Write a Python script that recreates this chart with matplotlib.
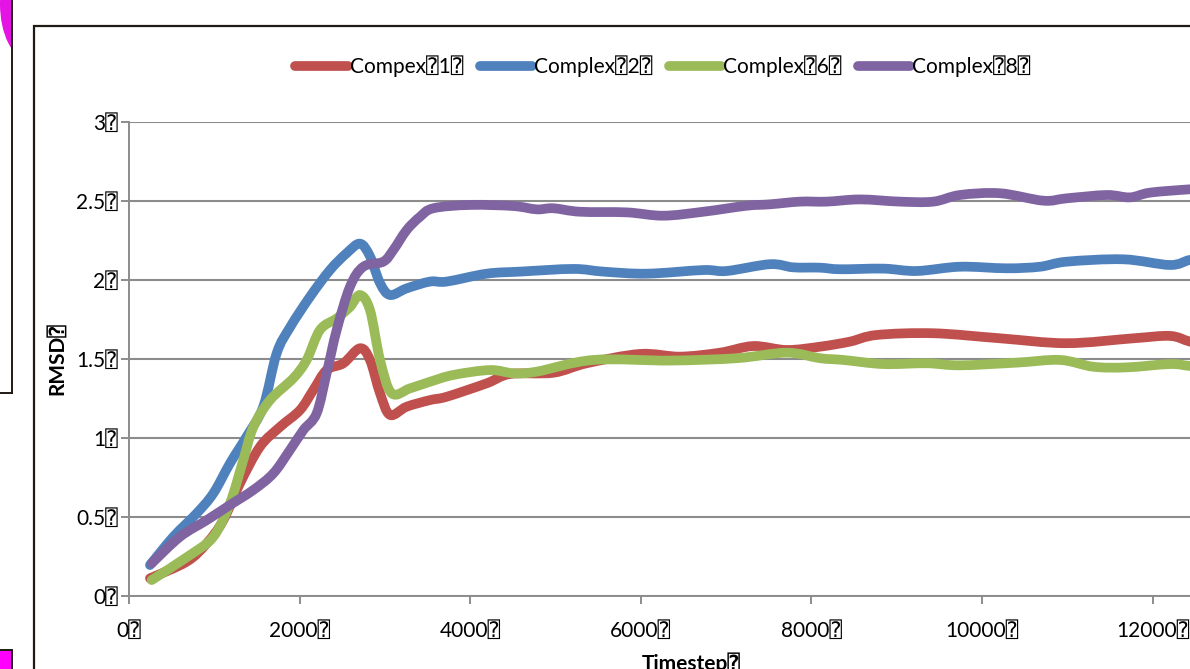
import matplotlib
matplotlib.use("Agg")
import matplotlib.pyplot as plt
from matplotlib.lines import Line2D
from matplotlib.patches import Rectangle, Ellipse, PathPatch
from matplotlib.path import Path
from matplotlib.transforms import Bbox

plt.rcParams['font.family'] = ['Lato', 'DejaVu Sans', 'DejaVu Sans Mono']

# ---- data ----
x_c1 = [246, 676, 911, 1106, 1301, 1536, 1770, 2005, 2161, 2317, 2513, 2708, 2825, 2943, 3060,
        3255, 3529, 3724, 4193, 4467, 4974, 5365, 5991, 6460, 6928, 7319, 7710, 8101, 8452,
        8765, 9429, 10211, 10993, 11774, 12204, 12438, 12700]
y_c1 = [0.112, 0.217, 0.333, 0.48, 0.713, 0.945, 1.07, 1.177, 1.304, 1.43, 1.473, 1.568, 1.494,
        1.283, 1.146, 1.198, 1.24, 1.261, 1.346, 1.405, 1.413, 1.473, 1.532, 1.515, 1.54, 1.582,
        1.557, 1.578, 1.61, 1.652, 1.663, 1.631, 1.6, 1.631, 1.646, 1.61, 1.58]

x_c2 = [246, 520, 793, 989, 1184, 1380, 1575, 1731, 1887, 2122, 2356, 2552, 2708, 2825, 2943,
        3060, 3255, 3529, 3724, 4193, 4584, 5209, 5561, 6069, 6733, 7006, 7515, 7788, 8101,
        8335, 8843, 9234, 9742, 10289, 10680, 10993, 11657, 12204, 12438, 12700]
y_c2 = [0.196, 0.375, 0.523, 0.65, 0.84, 1.01, 1.20, 1.536, 1.70, 1.894, 2.063, 2.17, 2.23, 2.15,
        1.98, 1.905, 1.947, 1.99, 1.99, 2.04, 2.053, 2.07, 2.053, 2.04, 2.063, 2.057, 2.10, 2.08,
        2.078, 2.068, 2.072, 2.057, 2.084, 2.074, 2.084, 2.116, 2.131, 2.095, 2.127, 2.14]

x_c6 = [266, 715, 989, 1184, 1340, 1458, 1653, 1926, 2083, 2239, 2435, 2591, 2708, 2825, 2943,
        3079, 3294, 3529, 3802, 4232, 4506, 4780, 5443, 6342, 7124, 7710, 8101, 8374, 8843,
        9351, 9742, 10407, 10915, 11305, 11696, 12204, 12438, 12700]
y_c6 = [0.101, 0.259, 0.375, 0.587, 0.861, 1.07, 1.24, 1.378, 1.494, 1.684, 1.757, 1.83, 1.905,
        1.81, 1.494, 1.283, 1.314, 1.356, 1.399, 1.43, 1.41, 1.42, 1.494, 1.49, 1.505, 1.54,
        1.505, 1.494, 1.468, 1.473, 1.46, 1.477, 1.494, 1.451, 1.447, 1.468, 1.456, 1.45]

x_c8 = [266, 598, 911, 1184, 1458, 1692, 1887, 2044, 2200, 2317, 2435, 2591, 2747, 2981, 3099,
        3255, 3411, 3568, 3998, 4506, 4780, 4974, 5287, 5834, 6264, 6733, 7241, 7515, 7866,
        8179, 8570, 9039, 9429, 9742, 10211, 10719, 10993, 11462, 11735, 11970, 12438, 12700]
y_c8 = [0.207, 0.375, 0.48, 0.576, 0.671, 0.776, 0.924, 1.05, 1.156, 1.41, 1.684, 1.958, 2.084,
        2.116, 2.19, 2.316, 2.40, 2.454, 2.475, 2.468, 2.447, 2.454, 2.432, 2.428, 2.407, 2.432,
        2.47, 2.479, 2.496, 2.496, 2.51, 2.496, 2.496, 2.538, 2.549, 2.502, 2.517, 2.538, 2.523,
        2.553, 2.574, 2.58]

series_labels = ["Compex\u23701\u2370", "Complex\u23702\u2370", "Complex\u23706\u2370", "Complex\u23708\u2370"]
series_colors = ["#C0504D", "#4F81BD", "#9BBB59", "#8064A2"]

x_ticks = [0, 2000, 4000, 6000, 8000, 10000, 12000, 14000]
x_tick_labels = ["0\u2370", "2000\u2370", "4000\u2370", "6000\u2370", "8000\u2370", "10000\u2370", "12000\u2370", "14000\u2370"]
y_ticks = [0, 0.5, 1, 1.5, 2, 2.5, 3]
y_tick_labels = ["0\u2370", "0.5\u2370", "1\u2370", "1.5\u2370", "2\u2370", "2.5\u2370", "3\u2370"]
x_title = "Timestep\u2370"
y_title = "RMSD\u2370"

W, H = 1190, 669
fig = plt.figure(figsize=(W / 100, H / 100), dpi=100)

def fx(px):
    return px / W

def fy(py):
    return 1 - py / H

# decorations of the slide around the chart
ell = Ellipse((fx(28), fy(4)), 56 / W, 110 / H, transform=fig.transFigure,
              facecolor="#E414E4", edgecolor="none")
fig.add_artist(ell)
ell.set_clip_on(True)
ell.set_clip_box(Bbox.from_extents(0, H - 60, 11, H))
fig.add_artist(Line2D([fx(11.5), fx(11.5)], [fy(0), fy(393)], transform=fig.transFigure,
                      color="#201A14", lw=1.4))
fig.add_artist(Line2D([fx(0), fx(11.5)], [fy(393), fy(393)], transform=fig.transFigure,
                      color="#201A14", lw=1.4))
fig.add_artist(Rectangle((fx(-2), fy(672)), 13.5 / W, 22 / H, transform=fig.transFigure,
                         facecolor="#FF00FF", edgecolor="#201A14", lw=1.4))
fig.add_artist(Rectangle((fx(34), fy(700)), 1300 / W, 674 / H, transform=fig.transFigure,
                         facecolor="none", edgecolor="#201A14", lw=1.6))

# chart axes
ax = fig.add_axes([fx(129), fy(596), 14000 * 0.0853 / W, 474 / H])
ax.set_xlim(0, 14000)
ax.set_ylim(0, 3)

grid_c = "#8C8C8C"
for s in ["top", "right"]:
    ax.spines[s].set_visible(False)
ax.spines["left"].set_color(grid_c)
ax.spines["bottom"].set_color(grid_c)
ax.spines["left"].set_linewidth(1.4)
ax.spines["bottom"].set_linewidth(1.4)
ax.yaxis.grid(True, color=grid_c, lw=1.5)
ax.set_axisbelow(True)

ax.set_xticks(x_ticks)
ax.set_xticklabels(x_tick_labels)
ax.set_yticks(y_ticks)
ax.set_yticklabels(y_tick_labels)
ax.tick_params(axis="both", colors=grid_c, labelcolor="black", labelsize=15,
               length=6, width=1.4, direction="out")
ax.tick_params(axis="x", pad=12)
ax.tick_params(axis="y", pad=2)


def smooth_path(xv, yv):
    """Excel-style smoothed line: cubic Bezier segments through the data points."""
    n = len(xv)
    verts = [(xv[0], yv[0])]
    codes = [Path.MOVETO]
    for i in range(n - 1):
        p0 = (xv[max(i - 1, 0)], yv[max(i - 1, 0)])
        p1 = (xv[i], yv[i])
        p2 = (xv[i + 1], yv[i + 1])
        p3 = (xv[min(i + 2, n - 1)], yv[min(i + 2, n - 1)])
        c1 = (p1[0] + (p2[0] - p0[0]) / 6, p1[1] + (p2[1] - p0[1]) / 6)
        c2 = (p2[0] - (p3[0] - p1[0]) / 6, p2[1] - (p3[1] - p1[1]) / 6)
        verts += [c1, c2, p2]
        codes += [Path.CURVE4] * 3
    return Path(verts, codes)


LW = 7.0
xs = [x_c1, x_c2, x_c6, x_c8]
ys = [y_c1, y_c2, y_c6, y_c8]
handles = []
for xv, yv, lab, col in zip(xs, ys, series_labels, series_colors):
    patch = PathPatch(smooth_path(xv, yv), facecolor="none", edgecolor=col, lw=LW,
                      capstyle="round", joinstyle="round", transform=ax.transData)
    ax.add_patch(patch)
    handles.append(Line2D([], [], color=col, lw=LW, solid_capstyle="round", label=lab))

ax.set_xlabel(x_title, fontsize=15, fontweight="bold")
ax.xaxis.set_label_coords((691 - 129) / (14000 * 0.0853), (596 - 652) / 474)
ax.set_ylabel(y_title, fontsize=15, fontweight="bold")
ax.yaxis.set_label_coords((67 - 129) / (14000 * 0.0853), 0.5)

leg = fig.legend(handles=handles, labels=series_labels, loc="center",
                 bbox_to_anchor=(fx(663), fy(66)), ncol=4, frameon=False,
                 fontsize=15, handlelength=2.5, handletextpad=0.1,
                 columnspacing=0.8)

fig.savefig("out.png", dpi=100)
